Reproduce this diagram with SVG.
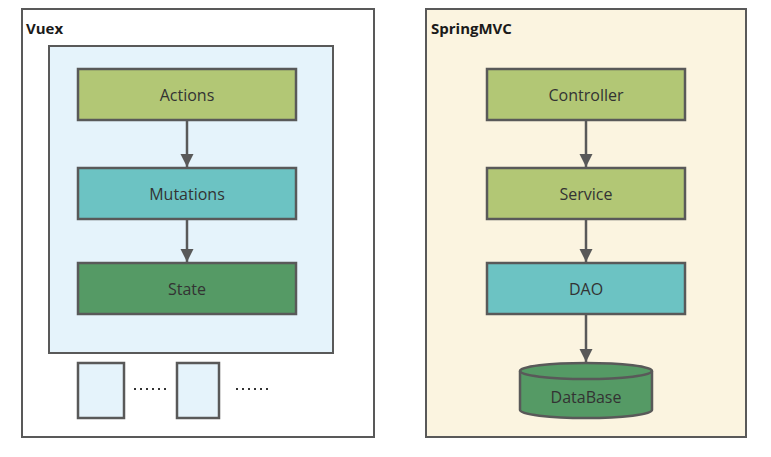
<svg xmlns="http://www.w3.org/2000/svg" width="771" height="457" viewBox="0 0 771 457">
<style>
.frame{stroke:#595959;stroke-width:2}
.node{stroke:#595959;stroke-width:2.5}
.lbl{font-family:"Open Sans","Noto Sans",sans-serif;font-size:16px;fill:#333;text-anchor:middle}
.title{font-family:"Open Sans","Noto Sans",sans-serif;font-size:15px;font-weight:bold;fill:#1a1a1a}
.edge{stroke:#595959;stroke-width:2.5;fill:none}
.dots{stroke:#333;stroke-width:2;stroke-dasharray:2 4;fill:none}
</style>
<defs>
<marker id="ah" markerWidth="14" markerHeight="14" refX="13" refY="7" orient="auto" markerUnits="userSpaceOnUse">
<path d="M0,0.5 L13,7 L0,13.5 z" fill="#595959"/>
</marker>
</defs>
<rect width="771" height="457" fill="#ffffff"/>
<g id="vuex">
<rect class="frame" x="22" y="9" width="352" height="428" fill="#ffffff"/>
<text class="title" x="26" y="34">Vuex</text>
</g>
<g id="vuex-store">
<rect class="frame" x="49" y="46" width="284" height="307" fill="#E5F3FB"/>
</g>
<g id="actions">
<rect class="node" x="78" y="69" width="218" height="51" fill="#B2C775"/>
<text class="lbl" x="187" y="101">Actions</text>
</g>
<g id="mutations">
<rect class="node" x="78" y="168" width="218" height="51" fill="#6CC3C3"/>
<text class="lbl" x="187" y="200">Mutations</text>
</g>
<g id="state">
<rect class="node" x="78" y="263" width="218" height="51" fill="#559A65"/>
<text class="lbl" x="187" y="295">State</text>
</g>
<g id="module1">
<rect class="node" x="78" y="363" width="46" height="55" fill="#E5F3FB"/>
</g>
<g id="module2">
<rect class="node" x="177" y="363" width="42" height="55" fill="#E5F3FB"/>
</g>
<g id="ellipsis">
<path class="dots" d="M134,389 H169"/>
<path class="dots" d="M236,389 H271"/>
</g>
<g id="springmvc">
<rect class="frame" x="426" y="9" width="320" height="428" fill="#FBF4E0"/>
<text class="title" x="431" y="34">SpringMVC</text>
</g>
<g id="controller">
<rect class="node" x="487" y="69" width="198" height="51" fill="#B2C775"/>
<text class="lbl" x="586" y="101">Controller</text>
</g>
<g id="service">
<rect class="node" x="487" y="168" width="198" height="51" fill="#B2C775"/>
<text class="lbl" x="586" y="200">Service</text>
</g>
<g id="dao">
<rect class="node" x="487" y="263" width="198" height="51" fill="#6CC3C3"/>
<text class="lbl" x="586" y="295">DAO</text>
</g>
<g id="database">
<path class="node" d="M520,371 A66,8 0 0 1 652,371 V410 A66,8 0 0 1 520,410 Z" fill="#559A65"/>
<path class="node" d="M520,371 A66,8 0 0 0 652,371" fill="none"/>
<text class="lbl" x="586" y="403">DataBase</text>
</g>
<g id="connectors">
<path class="edge" d="M187,121 V167" marker-end="url(#ah)"/>
<path class="edge" d="M187,220 V262" marker-end="url(#ah)"/>
<path class="edge" d="M586,121 V167" marker-end="url(#ah)"/>
<path class="edge" d="M586,220 V262" marker-end="url(#ah)"/>
<path class="edge" d="M586,315 V362" marker-end="url(#ah)"/>
</g>
</svg>
